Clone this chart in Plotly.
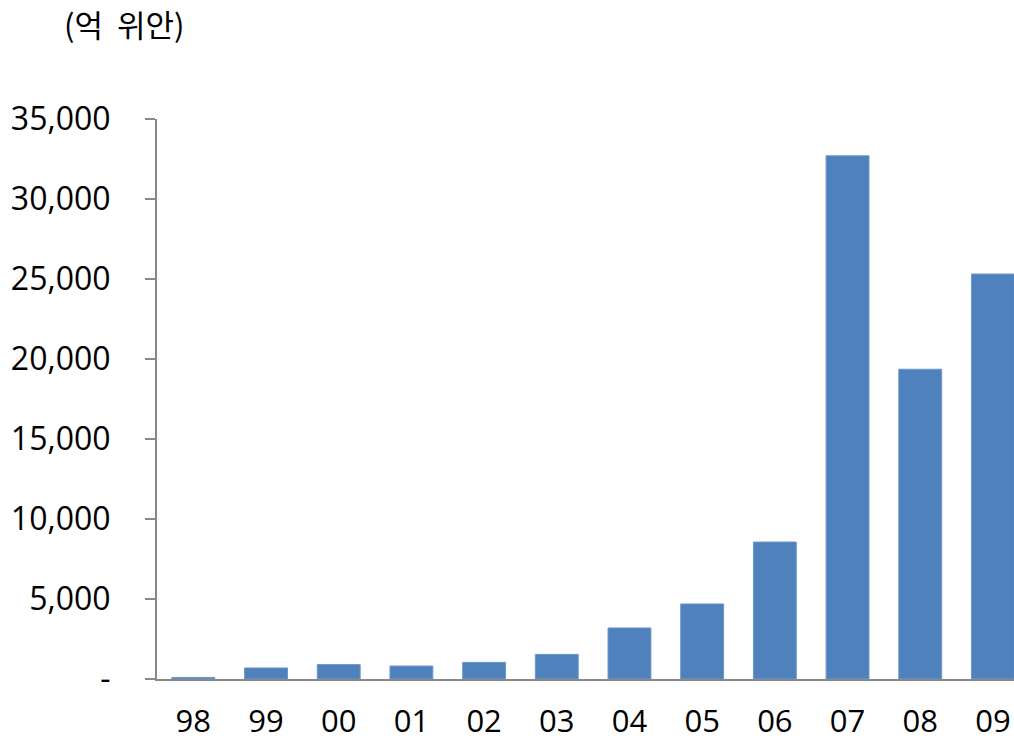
import plotly.graph_objects as go

# Annual amounts, 100-million yuan
years = ["98", "99", "00", "01", "02", "03", "04", "05", "06", "07", "08", "09"]
amounts = [100, 690, 900, 810, 1040, 1540, 3190, 4690, 8560, 32700, 19360, 25310]

y_ticks = [0, 5000, 10000, 15000, 20000, 25000, 30000, 35000]
y_tick_text = ["-", "5,000", "10,000", "15,000", "20,000", "25,000", "30,000", "35,000"]

FONT = "Open Sans, Noto Sans CJK KR, sans-serif"
TITLE_FONT = "Noto Sans CJK KR, Open Sans, sans-serif"
AXIS_GREY = "#898989"

fig = go.Figure(
    go.Bar(
        x=list(range(len(years))),
        y=amounts,
        width=0.59,
        marker=dict(color="#4F81BD", line=dict(color="#6C97CC", width=1)),
    )
)

fig.update_layout(
    width=1014,
    height=740,
    margin=dict(l=157, r=0, t=119, b=61, autoexpand=False),
    paper_bgcolor="white",
    plot_bgcolor="white",
    showlegend=False,
    font=dict(family=FONT, size=32, color="black"),
    title=dict(
        text="(억  위안)",
        x=64 / 1014,
        xanchor="left",
        xref="container",
        y=1 - 26 / 740,
        yanchor="middle",
        yref="container",
        font=dict(family=TITLE_FONT, size=31, color="black"),
    ),
)

fig.update_xaxes(
    range=[-0.5, 11.29],
    tickvals=list(range(len(years))),
    ticktext=years,
    showgrid=False,
    zeroline=False,
    showline=True,
    linecolor=AXIS_GREY,
    linewidth=2,
    ticks="",
    automargin=False,
    ticklabelstandoff=14,
    tickfont=dict(family=FONT, size=31, color="black"),
)

fig.update_yaxes(
    range=[0, 35000],
    tickvals=y_ticks,
    ticktext=y_tick_text,
    showgrid=False,
    zeroline=False,
    showline=True,
    linecolor=AXIS_GREY,
    linewidth=2,
    ticks="outside",
    ticklen=10,
    tickwidth=2,
    tickcolor=AXIS_GREY,
    automargin=False,
    ticklabelstandoff=28,
    tickfont=dict(family=FONT, size=32, color="black"),
)

fig.write_html("out.html")
